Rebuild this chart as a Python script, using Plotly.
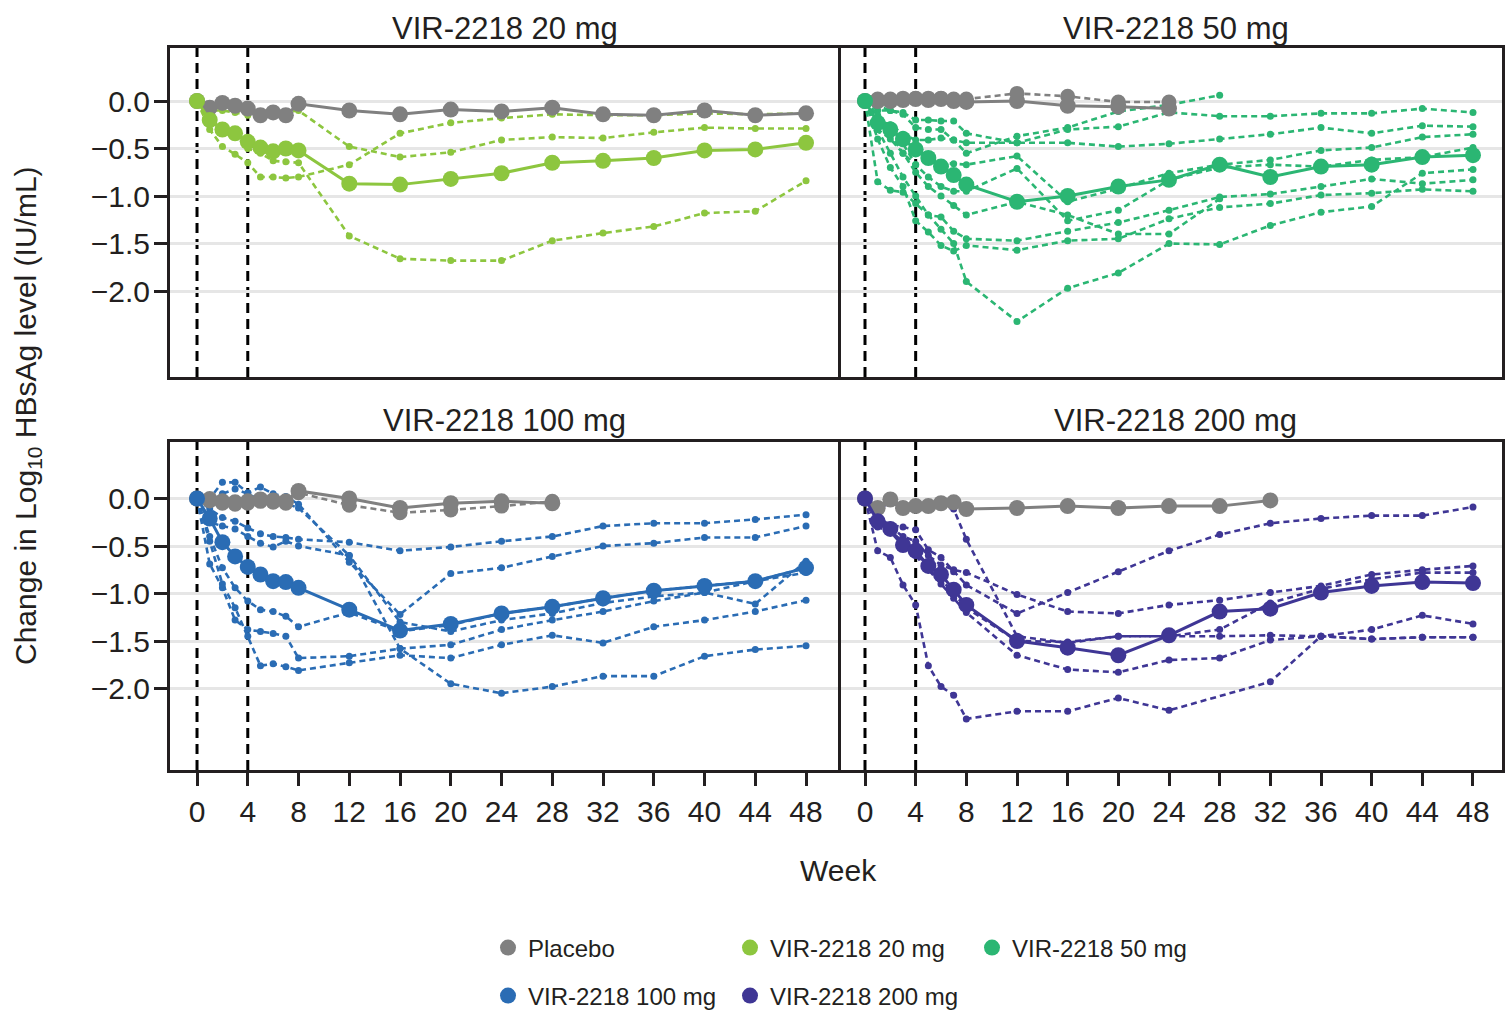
import plotly.graph_objects as go

# ---------------- data ----------------
weeks = [0, 1, 2, 3, 4, 5, 6, 7, 8, 12, 16, 20, 24, 28, 32, 36, 40, 44, 48]
x_ticks = [0, 4, 8, 12, 16, 20, 24, 28, 32, 36, 40, 44, 48]
y_ticks = [0.0, -0.5, -1.0, -1.5, -2.0]
y_tick_labels = ["0.0", "\u22120.5", "\u22121.0", "\u22121.5", "\u22122.0"]
dosing_weeks = [0, 4]
panel_titles = ["VIR-2218 20 mg", "VIR-2218 50 mg", "VIR-2218 100 mg", "VIR-2218 200 mg"]
legend_labels = ["Placebo", "VIR-2218 20 mg", "VIR-2218 50 mg", "VIR-2218 100 mg", "VIR-2218 200 mg"]

# --- VIR-2218 20 mg panel ---
pbo_20_mean = [0, -0.07, -0.02, -0.05, -0.08, -0.15, -0.12, -0.15, -0.03, -0.10, -0.14, -0.09, -0.11, -0.07, -0.14, -0.15, -0.10, -0.15, -0.13]
mean_20 = [0, -0.20, -0.30, -0.34, -0.43, -0.49, -0.53, -0.50, -0.52, -0.87, -0.88, -0.82, -0.76, -0.65, -0.63, -0.60, -0.52, -0.51, -0.44]
ind_20_a = [0, -0.10, -0.10, -0.12, -0.15, -0.15, -0.15, -0.12, -0.10, -0.48, -0.59, -0.54, -0.41, -0.38, -0.39, -0.33, -0.28, -0.29, -0.29]
ind_20_b = [0, -0.30, -0.48, -0.56, -0.65, -0.80, -0.80, -0.81, -0.80, -0.67, -0.34, -0.23, -0.18, -0.14, -0.15, -0.15, -0.13, -0.14, -0.13]
ind_20_c = [0, -0.20, -0.30, -0.35, -0.50, -0.55, -0.63, -0.64, -0.65, -1.42, -1.66, -1.68, -1.68, -1.47, -1.39, -1.32, -1.18, -1.16, -0.84]

# --- VIR-2218 50 mg panel ---
pbo_50_mean = [0, 0.00, 0.00, 0.01, 0.02, 0.01, 0.02, 0.00, -0.01, 0.00, -0.05, -0.06, -0.08]
pbo_50_ind = [0, 0.02, 0.02, 0.03, 0.03, 0.03, 0.03, 0.02, 0.02, 0.08, 0.05, -0.01, -0.01]
mean_50 = [0, -0.23, -0.30, -0.40, -0.51, -0.60, -0.69, -0.78, -0.88, -1.06, -1.00, -0.90, -0.83, -0.67, -0.80, -0.69, -0.67, -0.59, -0.57]
ind_50_1 = [0, -0.10, -0.10, -0.14, -0.28, -0.30, -0.30, -0.41, -0.55, -0.37, -0.28, -0.11, -0.04, 0.06]
ind_50_2 = [0, -0.05, -0.10, -0.12, -0.20, -0.20, -0.21, -0.21, -0.34, -0.44, -0.30, -0.27, -0.12, -0.16, -0.16, -0.13, -0.13, -0.08, -0.12]
ind_50_3 = [0, -0.20, -0.25, -0.35, -0.41, -0.41, -0.39, -0.41, -0.44, -0.44, -0.44, -0.48, -0.45, -0.40, -0.35, -0.28, -0.34, -0.26, -0.27]
ind_50_4 = [0, -0.24, -0.30, -0.45, -0.67, -0.60, -0.65, -0.66, -0.67, -0.58, -1.06, -0.92, -0.76, -0.67, -0.62, -0.52, -0.49, -0.38, -0.35]
ind_50_5 = [0, -0.30, -0.40, -0.55, -0.67, -0.80, -0.90, -0.95, -0.95, -0.71, -1.26, -1.15, -0.83, -0.70, -0.67, -0.69, -0.62, -0.59, -0.49]
ind_50_6 = [0, -0.85, -0.94, -0.96, -1.08, -1.20, -1.22, -1.37, -1.45, -1.47, -1.37, -1.28, -1.15, -1.01, -0.98, -0.90, -0.82, -0.87, -0.83]
ind_50_7 = [0, -0.40, -0.70, -0.90, -1.26, -1.38, -1.52, -1.58, -1.52, -1.57, -1.47, -1.45, -1.24, -1.12, -1.08, -0.99, -0.97, -0.93, -0.95]
ind_50_8 = [0, -0.15, -0.35, -0.55, -0.75, -0.90, -1.00, -1.10, -1.20, -1.06, -1.20, -1.40, -1.40, -1.03]
ind_50_9 = [0, -0.30, -0.55, -0.80, -1.00, -1.20, -1.35, -1.50, -1.90, -2.32, -1.97, -1.81, -1.50, -1.51, -1.31, -1.17, -1.11, -0.76, -0.72]

# --- VIR-2218 100 mg panel ---
pbo_100_mean = [0, -0.02, -0.03, -0.04, -0.03, -0.01, -0.02, -0.03, 0.08, 0.00, -0.10, -0.05, -0.03, -0.05]
pbo_100_ind = [0, 0.00, -0.05, -0.06, -0.05, -0.03, -0.04, -0.05, 0.06, -0.07, -0.15, -0.12, -0.08, -0.03]
mean_100 = [0, -0.21, -0.46, -0.61, -0.72, -0.80, -0.87, -0.88, -0.94, -1.17, -1.39, -1.32, -1.21, -1.14, -1.05, -0.97, -0.92, -0.87, -0.73]
ind_100_1 = [0, -0.11, -0.20, -0.24, -0.31, -0.37, -0.40, -0.41, -0.43, -0.46, -0.55, -0.51, -0.45, -0.40, -0.29, -0.26, -0.26, -0.22, -0.17]
ind_100_2 = [0, 0.00, 0.17, 0.17, 0.06, 0.12, 0.05, 0.02, -0.06, -0.67, -1.22, -0.79, -0.73, -0.61, -0.50, -0.47, -0.41, -0.41, -0.29]
ind_100_3 = [0, -0.25, -0.29, -0.32, -0.40, -0.47, -0.51, -0.45, -0.50, -0.60, -1.30, -1.40, -1.28, -1.21, -1.10, -1.03, -0.99, -1.11, -0.66]
ind_100_4 = [0, -0.69, -0.94, -1.28, -1.38, -1.40, -1.42, -1.45, -1.68, -1.66, -1.58, -1.54, -1.38, -1.28, -1.19, -1.08, -0.99, -0.87, -0.78]
ind_100_5 = [0, -0.45, -0.90, -1.15, -1.45, -1.76, -1.74, -1.77, -1.81, -1.73, -1.65, -1.68, -1.54, -1.44, -1.52, -1.35, -1.28, -1.19, -1.07]
ind_100_6 = [0, -0.05, 0.05, 0.10, 0.05, -0.02, -0.05, -0.05, -0.10, -0.60, -1.58, -1.95, -2.05, -1.98, -1.87, -1.87, -1.66, -1.59, -1.55]
ind_100_7 = [0, -0.40, -0.73, -0.94, -1.08, -1.17, -1.19, -1.24, -1.35, -1.20, -1.40, -1.33, -1.21, -1.14, -1.05, -0.97, -0.92, -0.87, -0.73]

# --- VIR-2218 200 mg panel ---
pbo_200_mean = [0, -0.10, -0.01, -0.10, -0.08, -0.08, -0.05, -0.04, -0.11, -0.10, -0.08, -0.10, -0.08, -0.08, -0.02]
mean_200 = [0, -0.24, -0.32, -0.49, -0.55, -0.71, -0.80, -0.96, -1.12, -1.50, -1.57, -1.65, -1.44, -1.19, -1.16, -0.99, -0.92, -0.88, -0.89]
ind_200_1 = [0, -0.20, -0.28, -0.30, -0.33, -0.54, -0.62, -0.77, -0.91, -1.21, -0.99, -0.77, -0.55, -0.38, -0.26, -0.21, -0.18, -0.18, -0.09]
ind_200_2 = [0, -0.25, -0.30, -0.40, -0.45, -0.60, -0.70, -0.75, -0.78, -1.01, -1.19, -1.21, -1.12, -1.07, -0.99, -0.92, -0.80, -0.75, -0.71]
ind_200_3 = [0, -0.25, -0.35, -0.45, -0.55, -0.75, -0.85, -1.00, -1.15, -1.50, -1.51, -1.45, -1.45, -1.38, -1.10, -0.95, -0.85, -0.78, -0.78]
ind_200_4 = [0, -0.10, -0.05, -0.08, -0.10, -0.05, -0.08, -0.11, -0.43, -1.45, -1.52, -1.45, -1.45, -1.45, -1.44, -1.45, -1.48, -1.46, -1.46]
ind_200_5 = [0, -0.30, -0.35, -0.50, -0.60, -0.75, -0.90, -1.05, -1.20, -1.65, -1.80, -1.83, -1.70, -1.68, -1.49, -1.45, -1.38, -1.23, -1.32]
ind_200_6 = [0, -0.55, -0.62, -0.91, -1.12, -1.76, -1.98, -2.07, -2.32, -2.24, -2.24, -2.10, -2.23, None, -1.93, -1.45, -1.48, -1.46, -1.46]

# ---------------- styling ----------------
INK = "#231f20"
FONT = "Liberation Sans, Arial, Helvetica, sans-serif"
C_PBO = "#808080"
C_20 = "#8dc63f"
C_50 = "#2bb673"
C_100 = "#2a6cb4"
C_200 = "#3f3695"
GRID = "#e6e6e6"

W, H = 1505, 1011
XL = [170 / W, 838 / W]
XR = [841 / W, 1502 / W]
YT = [1 - 377 / H, 1 - 48 / H]
YB = [1 - 770 / H, 1 - 442 / H]

panels = [
    dict(ax="", dom=(XL, YT), xr=[-2.13, 50.52], yr=[-2.905, 0.558], color=C_20, mean=mean_20,
         inds=[ind_20_a, ind_20_b, ind_20_c], pbo_mean=pbo_20_mean, pbo_inds=[],
         left=True, bottom=False),
    dict(ax="2", dom=(XR, YT), xr=[-1.895, 50.29], yr=[-2.905, 0.558], color=C_50, mean=mean_50,
         inds=[ind_50_1, ind_50_2, ind_50_3, ind_50_4, ind_50_5, ind_50_6, ind_50_7, ind_50_8, ind_50_9],
         pbo_mean=pbo_50_mean, pbo_inds=[pbo_50_ind], left=False, bottom=False),
    dict(ax="3", dom=(XL, YB), xr=[-2.13, 50.52], yr=[-2.858, 0.595], color=C_100, mean=mean_100,
         inds=[ind_100_1, ind_100_2, ind_100_3, ind_100_4, ind_100_5, ind_100_6, ind_100_7],
         pbo_mean=pbo_100_mean, pbo_inds=[pbo_100_ind], left=True, bottom=True),
    dict(ax="4", dom=(XR, YB), xr=[-1.895, 50.29], yr=[-2.858, 0.595], color=C_200, mean=mean_200,
         inds=[ind_200_1, ind_200_2, ind_200_3, ind_200_4, ind_200_5, ind_200_6],
         pbo_mean=pbo_200_mean, pbo_inds=[], left=False, bottom=True),
]

fig = go.Figure()
layout_axes = {}
shapes = []

for p in panels:
    xa = "x" + p["ax"]
    ya = "y" + p["ax"]
    # individual patients (dashed, small markers)
    for s in p["inds"]:
        fig.add_trace(go.Scatter(
            x=weeks[:len(s)], y=s, xaxis=xa, yaxis=ya, mode="lines+markers",
            connectgaps=True, showlegend=False, hoverinfo="skip",
            line=dict(color=p["color"], width=2.6, dash="6px,4px"),
            marker=dict(color=p["color"], size=7)))
    # placebo individuals (dashed)
    for s in p["pbo_inds"]:
        fig.add_trace(go.Scatter(
            x=weeks[:len(s)], y=s, xaxis=xa, yaxis=ya, mode="lines+markers",
            showlegend=False, hoverinfo="skip",
            line=dict(color=C_PBO, width=2.6, dash="6px,4px"),
            marker=dict(color=C_PBO, size=15)))
    # placebo mean
    s = p["pbo_mean"]
    fig.add_trace(go.Scatter(
        x=weeks[:len(s)], y=s, xaxis=xa, yaxis=ya, mode="lines+markers",
        showlegend=False, hoverinfo="skip",
        line=dict(color=C_PBO, width=3),
        marker=dict(color=C_PBO, size=16)))
    # active mean
    s = p["mean"]
    fig.add_trace(go.Scatter(
        x=weeks[:len(s)], y=s, xaxis=xa, yaxis=ya, mode="lines+markers",
        showlegend=False, hoverinfo="skip",
        line=dict(color=p["color"], width=3),
        marker=dict(color=p["color"], size=16)))

    xkey = "xaxis" + p["ax"]
    ykey = "yaxis" + p["ax"]
    layout_axes[xkey] = dict(
        domain=p["dom"][0], range=p["xr"], anchor=ya,
        tickmode="array", tickvals=x_ticks, ticktext=[str(t) for t in x_ticks],
        showticklabels=p["bottom"], ticks="outside" if p["bottom"] else "",
        ticklen=13, tickwidth=3, tickcolor=INK,
        showline=True, linewidth=3, linecolor=INK, mirror=True,
        showgrid=False, zeroline=False,
        tickfont=dict(size=30, color=INK, family=FONT))
    layout_axes[ykey] = dict(
        domain=p["dom"][1], range=p["yr"], anchor=xa,
        tickmode="array", tickvals=y_ticks, ticktext=y_tick_labels,
        showticklabels=p["left"], ticks="outside" if p["left"] else "",
        ticklen=13, tickwidth=3, tickcolor=INK, ticklabelstandoff=-2,
        showline=True, linewidth=3, linecolor=INK, mirror=True,
        showgrid=True, gridcolor=GRID, gridwidth=3, zeroline=False,
        tickfont=dict(size=30, color=INK, family=FONT))
    for wk in dosing_weeks:
        shapes.append(dict(type="line", xref=xa, yref=ya + " domain",
                           x0=wk, x1=wk, y0=0, y1=1, layer="below",
                           line=dict(color="black", width=3, dash="10px,6px")))

# legend entries
leg_colors = [C_PBO, C_20, C_50, C_100, C_200]
leg_groups = ["legend", "legend", "legend", "legend2", "legend2"]
for lab, col, lg in zip(legend_labels, leg_colors, leg_groups):
    fig.add_trace(go.Scatter(
        x=[None], y=[None], mode="markers", name=lab, legend=lg,
        marker=dict(color=col, size=18), showlegend=True, hoverinfo="skip"))

title_pos = [(504.5, 28), (1175.5, 28), (504.5, 420), (1175.5, 420)]
annotations = []
for t, (px, py) in zip(panel_titles, title_pos):
    annotations.append(dict(text=t, x=px / W, y=1 - py / H, xref="paper", yref="paper",
                            showarrow=False, xanchor="center", yanchor="middle",
                            font=dict(size=31, color=INK, family=FONT)))
annotations.append(dict(text="Week", x=838 / W, y=1 - 870 / H, xref="paper", yref="paper",
                        showarrow=False, xanchor="center", yanchor="middle",
                        font=dict(size=30, color=INK, family=FONT)))
annotations.append(dict(text="Change in Log<sub>10</sub> HBsAg level (IU/mL)",
                        x=28 / W, y=1 - 416 / H, xref="paper", yref="paper",
                        showarrow=False, textangle=-90, xanchor="center", yanchor="middle",
                        font=dict(size=30, color=INK, family=FONT)))

leg_common = dict(orientation="h", xanchor="left", yanchor="middle",
                  font=dict(size=24, color=INK, family=FONT),
                  bgcolor="rgba(0,0,0,0)", entrywidth=197, entrywidthmode="pixels",
                  itemwidth=30, traceorder="normal")

fig.update_layout(
    width=W, height=H,
    margin=dict(l=0, r=0, t=0, b=0, autoexpand=False),
    paper_bgcolor="white", plot_bgcolor="white",
    font=dict(family=FONT, color=INK),
    shapes=shapes, annotations=annotations,
    legend=dict(x=488 / W, y=1 - 948 / H, **leg_common),
    legend2=dict(x=488 / W, y=1 - 996 / H, **leg_common),
    **layout_axes,
)

fig.write_html("out.html", config={"displayModeBar": False},
               post_script="document.body.style.margin='0px';")
